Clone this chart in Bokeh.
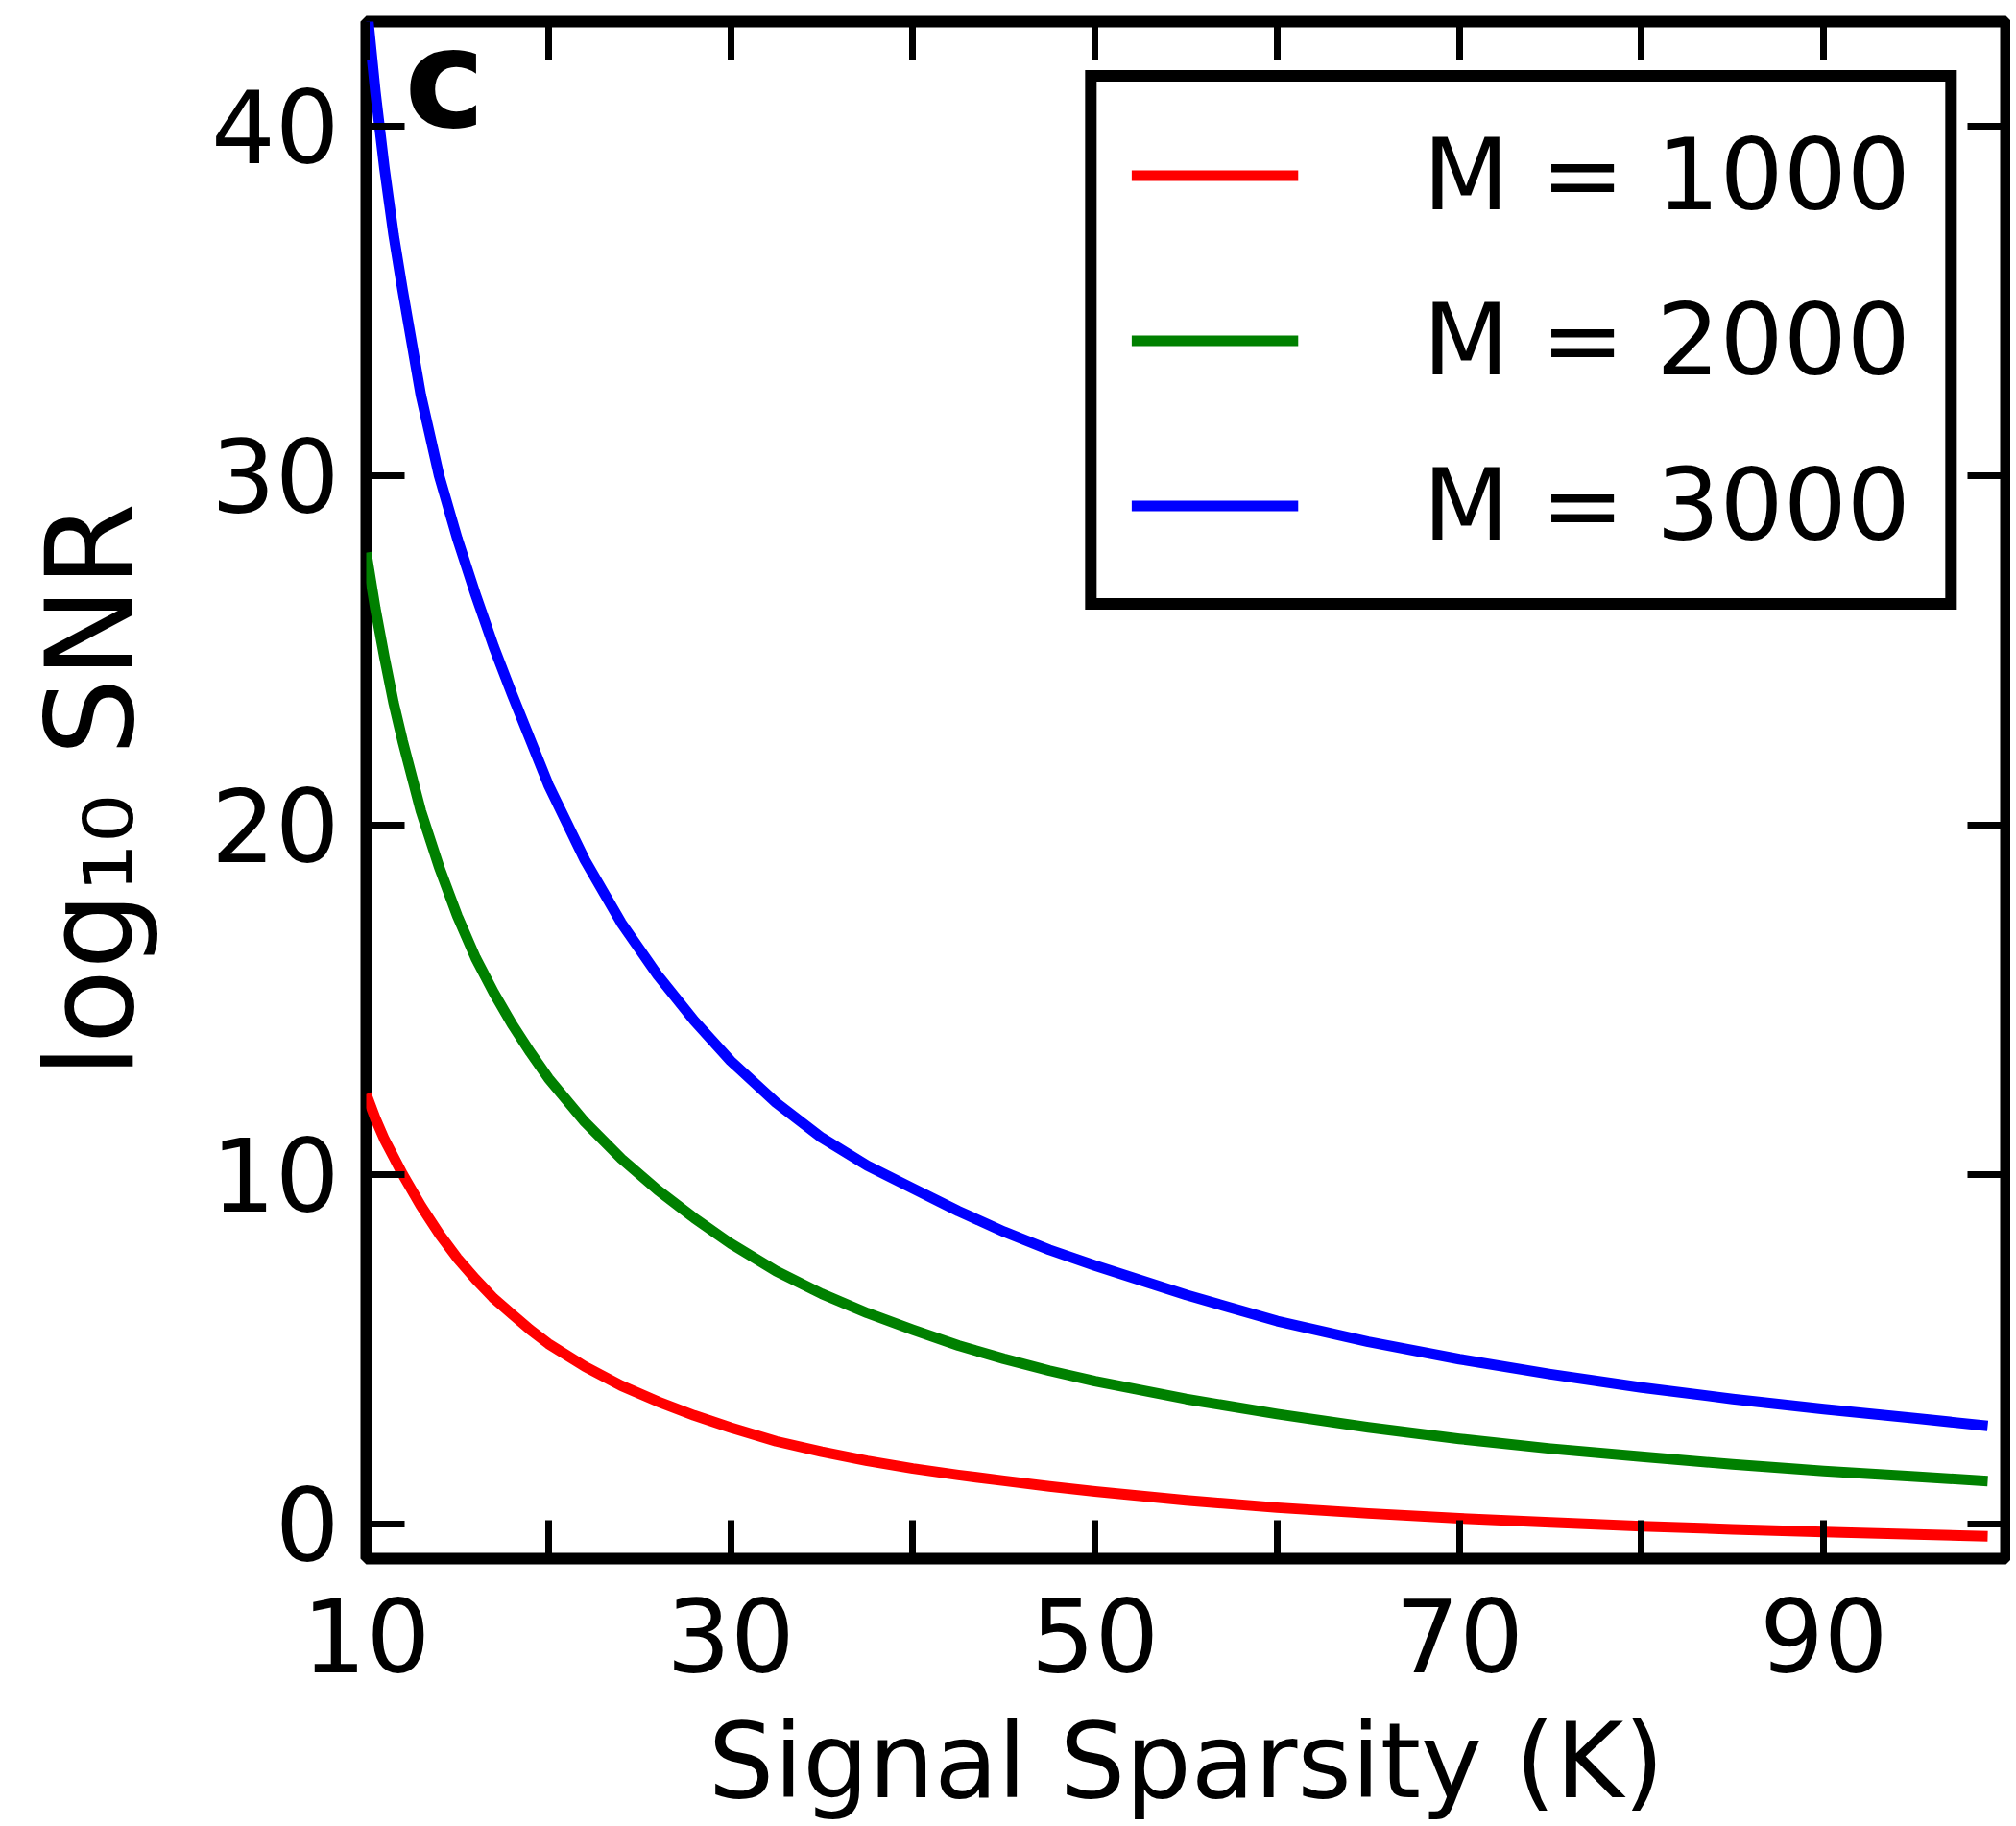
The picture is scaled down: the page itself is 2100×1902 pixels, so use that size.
from bokeh.plotting import figure
from bokeh.models import Range1d, FixedTicker, LinearAxis, Legend, LegendItem, Label
from bokeh.embed import file_html
from bokeh.resources import INLINE

# ---- data ----
K = [10, 10.5, 11, 11.5, 12, 13, 14, 15, 16, 17, 18, 19, 20, 22, 24, 26, 28, 30, 32.5, 35, 37.5,
     40, 42.5, 45, 47.5, 50, 55, 60, 65, 70, 75, 80, 85, 90, 95, 99]
snr_m1000 = [12.3, 11.6, 11.0, 10.5, 10.0, 9.1, 8.3, 7.6, 7.0, 6.45, 6.0, 5.55, 5.15, 4.5, 3.95, 3.5,
             3.1, 2.75, 2.36, 2.06, 1.8, 1.58, 1.395, 1.23, 1.07, 0.925, 0.67, 0.46, 0.295, 0.155, 0.035,
             -0.07, -0.16, -0.235, -0.305, -0.36]
snr_m2000 = [27.8, 26.2, 24.8, 23.5, 22.4, 20.4, 18.8, 17.4, 16.2, 15.2, 14.3, 13.5, 12.75, 11.5, 10.45,
             9.55, 8.75, 8.02, 7.23, 6.58, 6.03, 5.55, 5.1, 4.72, 4.38, 4.08, 3.57, 3.14, 2.76, 2.43, 2.15,
             1.92, 1.7, 1.51, 1.35, 1.22]
snr_m3000 = [43.6, 41.0, 38.8, 36.9, 35.3, 32.3, 30.0, 28.2, 26.6, 25.1, 23.75, 22.45, 21.15, 19.0, 17.2,
             15.7, 14.4, 13.25, 12.05, 11.05, 10.25, 9.6, 8.95, 8.36, 7.84, 7.39, 6.55, 5.8, 5.21, 4.71,
             4.28, 3.9, 3.57, 3.28, 3.02, 2.8]
series_labels = ["M = 1000", "M = 2000", "M = 3000"]
series_colors = ["#ff0000", "#008000", "#0000ff"]

x_labeled_ticks = [10, 30, 50, 70, 90]
x_unlabeled_ticks = [20, 40, 60, 80, 100]
x_all_ticks = [10, 20, 30, 40, 50, 60, 70, 80, 90, 100]
y_ticks = [0, 10, 20, 30, 40]

FONT = "DejaVu Sans"

p = figure(width=2094, height=1902,
           x_range=Range1d(10, 100), y_range=Range1d(-1, 43),
           output_backend="svg", toolbar_location=None,
           min_border_left=381, min_border_right=5, min_border_top=22, min_border_bottom=279)
p.grid.visible = False
p.outline_line_color = "black"
p.outline_line_width = 12
p.background_fill_color = "white"
p.border_fill_color = "white"

renderers = []
for ys, c in zip([snr_m1000, snr_m2000, snr_m3000], series_colors):
    r = p.line(K, ys, line_color=c, line_width=11, line_join="round")
    renderers.append(r)

def style_axis(ax, major, minor, show_labels):
    ax.ticker = FixedTicker(ticks=major, minor_ticks=minor)
    ax.axis_line_color = None
    for pre in ("major", "minor"):
        setattr(ax, pre + "_tick_in", 40)
        setattr(ax, pre + "_tick_out", 0)
        setattr(ax, pre + "_tick_line_width", 7)
        setattr(ax, pre + "_tick_line_color", "black")
    ax.major_label_text_font = FONT
    ax.major_label_text_color = "black"
    ax.major_label_text_font_size = "105px" if show_labels else "1px"
    if not show_labels:
        ax.major_label_standoff = 0

xa = p.xaxis[0]
style_axis(xa, x_labeled_ticks, x_unlabeled_ticks, True)
xa.major_label_standoff = 41
xa.axis_label = "Signal Sparsity (K)"
xa.axis_label_text_font = FONT
xa.axis_label_text_font_size = "108px"
xa.axis_label_text_font_style = "normal"
xa.axis_label_text_color = "black"
xa.axis_label_standoff = 27

ya = p.yaxis[0]
style_axis(ya, y_ticks, [], True)
ya.major_label_standoff = 28
ya.axis_label = "log\u2081\u2080 SNR"
ya.axis_label_text_font = FONT
ya.axis_label_text_font_size = "127px"
ya.axis_label_text_font_style = "normal"
ya.axis_label_text_color = "black"
ya.axis_label_standoff = 49

top = LinearAxis()
style_axis(top, [], x_all_ticks, False)
p.add_layout(top, "above")
right = LinearAxis()
style_axis(right, [], y_ticks, False)
p.add_layout(right, "right")

legend = Legend(
    items=[LegendItem(label=l, renderers=[r]) for l, r in zip(series_labels, renderers)],
    location="top_right", margin=51, padding=36, spacing=50,
    glyph_width=174, glyph_height=121, label_standoff=130,
    label_text_font=FONT, label_text_font_size="104px", label_text_color="black",
    border_line_color="black", border_line_width=12, border_line_alpha=1,
    background_fill_color="white", background_fill_alpha=1,
)
p.add_layout(legend)

panel = Label(x=12.1, y=41.35, text="c", text_font=FONT, text_font_size="142px",
              text_font_style="bold", text_color="black", text_baseline="alphabetic")
p.add_layout(panel)

open("out.html", "w").write(file_html(p, INLINE))
